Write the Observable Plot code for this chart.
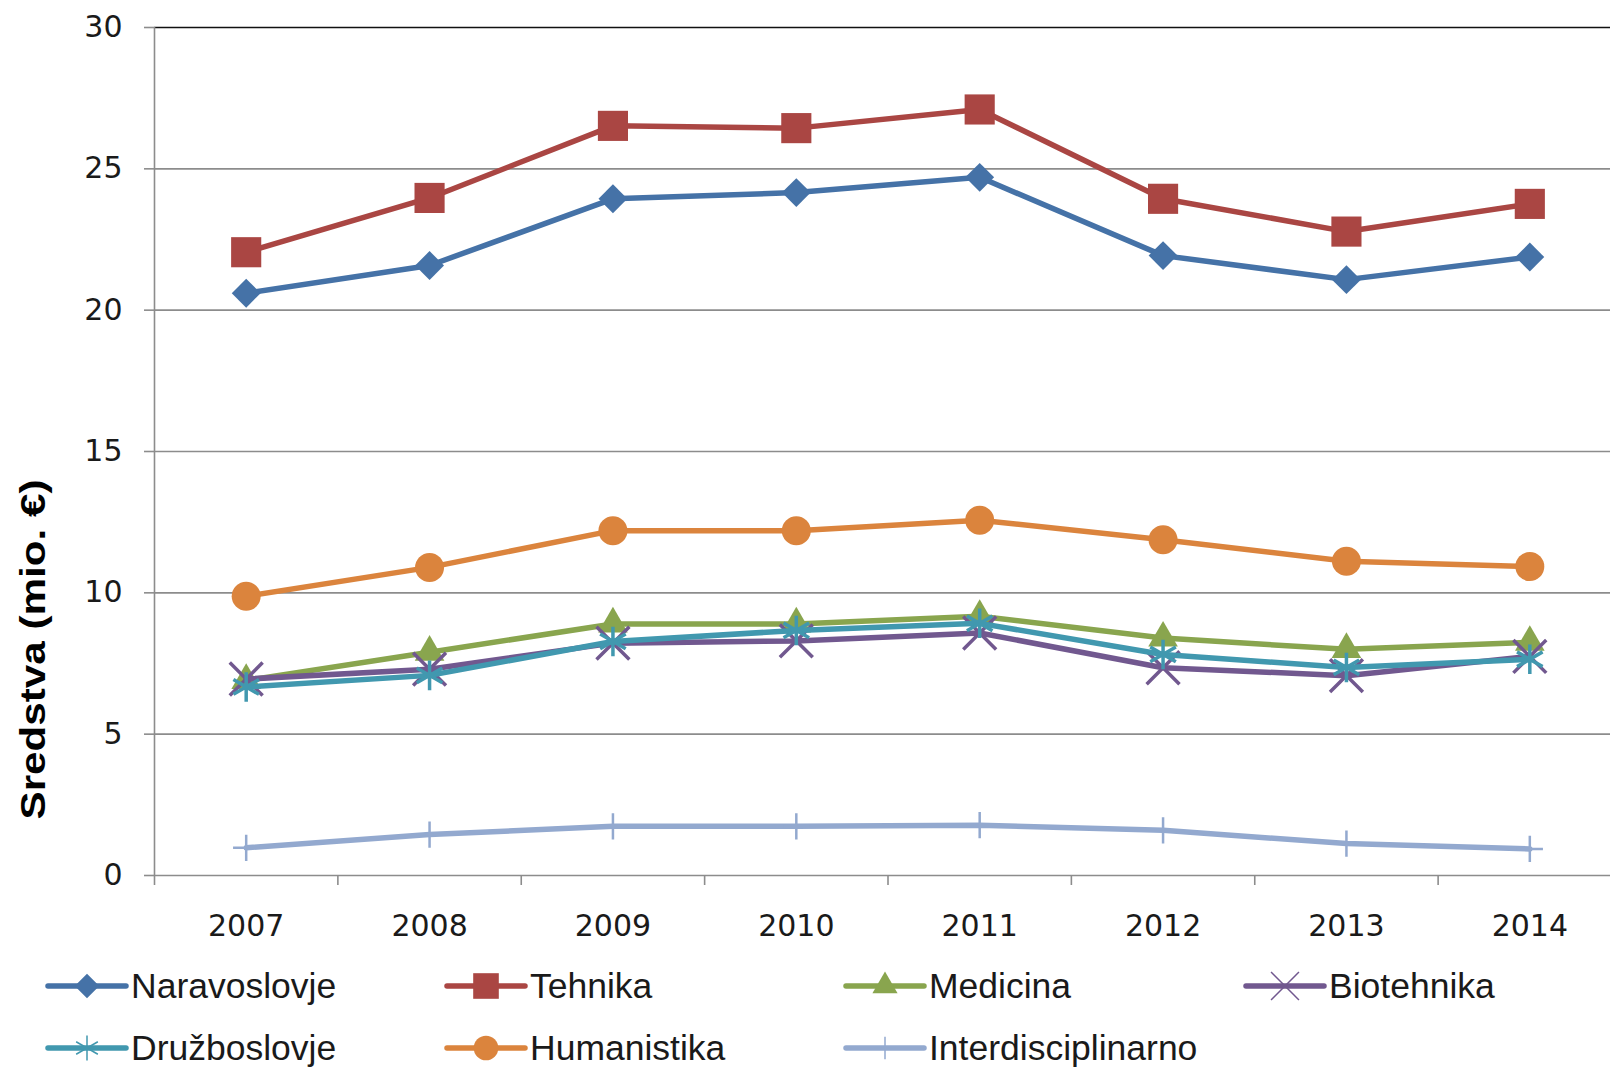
<!DOCTYPE html>
<html><head><meta charset="utf-8">
<script src="https://cdn.jsdelivr.net/npm/d3@7"></script>
<script src="https://cdn.jsdelivr.net/npm/@observablehq/plot@0.6"></script>
<style>
body{margin:0;background:#fff;}
#chart svg, #legend svg{display:block}
</style>
</head><body><div id="chart"></div><div id="legend"></div>
<script>
const years = [2007, 2008, 2009, 2010, 2011, 2012, 2013, 2014];
const naravoslovje = [20.6, 21.58, 23.94, 24.16, 24.7, 21.93, 21.08, 21.88];
const tehnika = [22.05, 23.97, 26.52, 26.44, 27.1, 23.94, 22.78, 23.76];
const medicina = [6.9, 7.9, 8.9, 8.9, 9.17, 8.4, 8.0, 8.25];
const biotehnika = [6.95, 7.3, 8.22, 8.3, 8.58, 7.35, 7.07, 7.75];
const druzboslovje = [6.67, 7.08, 8.28, 8.67, 8.92, 7.82, 7.36, 7.65];
const humanistika = [9.88, 10.9, 12.2, 12.2, 12.57, 11.88, 11.12, 10.93];
const interdisciplinarno = [0.98, 1.45, 1.74, 1.74, 1.78, 1.6, 1.13, 0.94];

const seriesNames = ["Naravoslovje", "Tehnika", "Medicina", "Biotehnika", "Družboslovje", "Humanistika", "Interdisciplinarno"];
const seriesValues = [naravoslovje, tehnika, medicina, biotehnika, druzboslovje, humanistika, interdisciplinarno];
const seriesColors = ["#4572A7", "#AA4643", "#89A54E", "#71588F", "#4198AF", "#DB843D", "#93A9CF"];
const seriesSymbols = ["diamond2", "square", "triangle", "times", "asterisk", "circle", "plus"];
const symbolR = [13, 17, 11, 15, 14, 14.5, 8.5];
const symbolFilled = [true, true, true, false, false, true, false];
const symbolStroke = [0, 0, 0, 3.5, 3.5, 0, 2.5];
const yTicks = [0, 5, 10, 15, 20, 25, 30];
const yLabel = "Sredstva (mio. €)";

const data = seriesNames.flatMap((name, i) => seriesValues[i].map((v, j) => ({series: name, year: years[j], value: v})));
const boundaries = years.map(y => y - 0.5).concat([years[years.length - 1] + 0.5]);

const W = 1610, H = 955;
const marks = [
  Plot.ruleY(yTicks.filter(d => d < 30), {stroke: "#8c8c8c", strokeWidth: 1.6}),
  Plot.ruleY([30], {stroke: "#111", strokeWidth: 1.6}),
  Plot.ruleX([boundaries[0]], {y1: 0, y2: 30, stroke: "#8c8c8c", strokeWidth: 1.6}),
  Plot.axisY({ticks: yTicks, tickSize: 10, tickPadding: 22, stroke: "#8c8c8c", strokeWidth: 1.6, fill: "#1a1a1a", fontSize: 30, label: null, tickFormat: d => String(d)}),
  Plot.axisX({ticks: boundaries, tickSize: 10, stroke: "#8c8c8c", strokeWidth: 1.6, tickFormat: () => "", label: null}),
  Plot.axisX({ticks: years, tickSize: 0, tickPadding: 39, fill: "#1a1a1a", fontSize: 30, tickFormat: d => String(d), label: null}),
  Plot.text([yLabel], {frameAnchor: "left", textAnchor: "middle", dx: -121, dy: 198, rotate: -90, fontSize: 35, fontWeight: "bold", fontFamily: "Liberation Sans, Arial, sans-serif", fill: "#000", text: d => d})
];
seriesNames.forEach((name, i) => {
  const d = data.filter(r => r.series === name);
  marks.push(Plot.line(d, {x: "year", y: "value", stroke: seriesColors[i], strokeWidth: 5.5, strokeLinejoin: "round", strokeLinecap: "round"}));
  marks.push(Plot.dot(d, {
    x: "year", y: "value", symbol: seriesSymbols[i], r: symbolR[i],
    fill: symbolFilled[i] ? seriesColors[i] : "none",
    stroke: symbolFilled[i] ? "none" : seriesColors[i],
    strokeWidth: symbolStroke[i] || 1
  }));
});

const plot = Plot.plot({
  width: W, height: H,
  marginLeft: 154, marginRight: 0, marginTop: 27, marginBottom: 80,
  x: {type: "linear", domain: [boundaries[0], boundaries[boundaries.length - 1]], range: [154, 1621]},
  y: {domain: [0, 30], range: [875, 27]},
  style: {fontFamily: "DejaVu Sans, sans-serif", fontSize: "30px", color: "#1a1a1a", background: "#fff"},
  marks
});
// stretch the axis title to the reference's length
d3.select(plot).selectAll("text").filter(function() { return this.textContent === yLabel; })
  .attr("textLength", 340).attr("lengthAdjust", "spacingAndGlyphs");
document.getElementById("chart").appendChild(plot);

// Legend (below the chart)
const LH = 1068 - H;
const legendCols = [48, 447, 846, 1246];
const legendRows = [31, 93];
const legend = d3.create("svg").attr("width", W).attr("height", LH)
  .style("font-family", "Liberation Sans, Arial, sans-serif");
const d3Sym = {diamond2: d3.symbolDiamond2, square: d3.symbolSquare, triangle: d3.symbolTriangle, times: d3.symbolTimes, asterisk: d3.symbolAsterisk, circle: d3.symbolCircle, plus: d3.symbolPlus};
seriesNames.forEach((name, i) => {
  const x0 = legendCols[i % 4], y0 = legendRows[Math.floor(i / 4)];
  const g = legend.append("g").attr("transform", `translate(${x0},${y0})`);
  g.append("line").attr("x1", 0).attr("x2", 78).attr("y1", 0).attr("y2", 0)
    .attr("stroke", seriesColors[i]).attr("stroke-width", 5.5).attr("stroke-linecap", "round");
  const r = symbolR[i] * 0.85;
  g.append("path").attr("transform", "translate(39,0)")
    .attr("d", d3.symbol(d3Sym[seriesSymbols[i]], Math.PI * r * r)())
    .attr("fill", symbolFilled[i] ? seriesColors[i] : "none")
    .attr("stroke", symbolFilled[i] ? "none" : seriesColors[i])
    .attr("stroke-width", symbolFilled[i] ? 0 : 1.5);
  g.append("text").attr("x", 83).attr("y", 0).attr("dy", "0.35em")
    .attr("font-size", 35.5).attr("fill", "#1a1a1a").text(name);
});
document.getElementById("legend").appendChild(legend.node());
</script>
</body></html>
